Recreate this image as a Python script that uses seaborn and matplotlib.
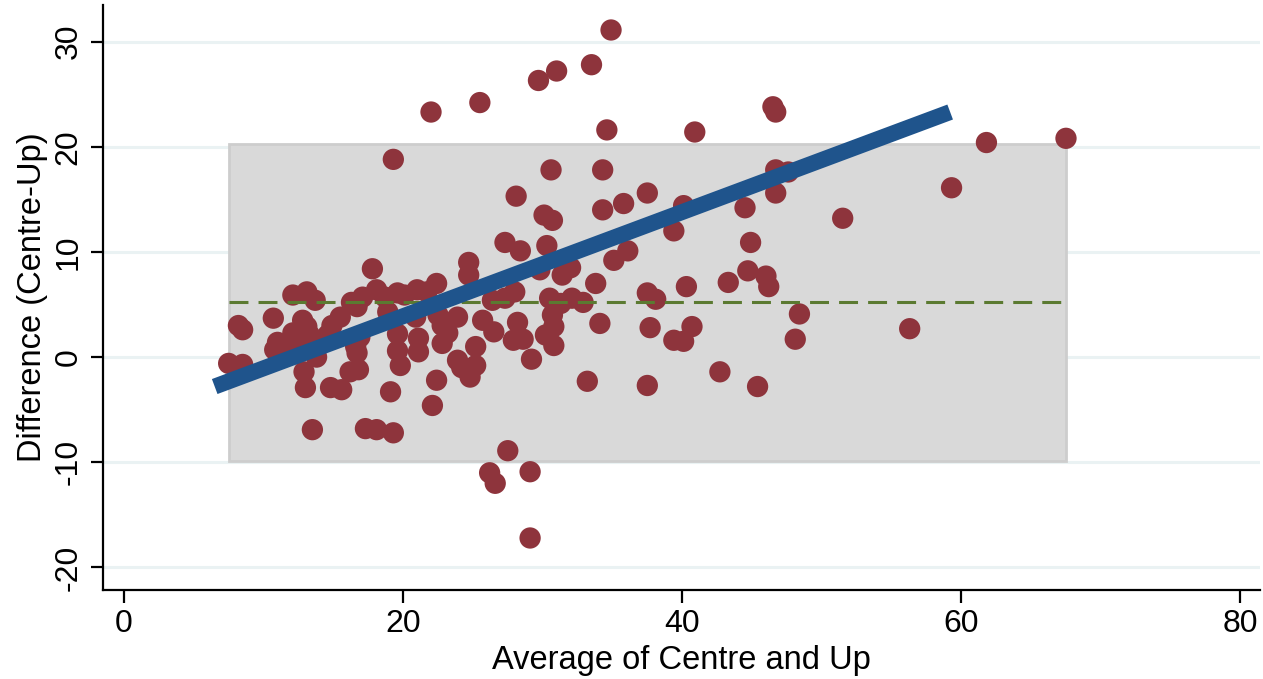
import matplotlib
matplotlib.use("Agg")
import matplotlib.pyplot as plt
import seaborn as sns
import pandas as pd
from matplotlib.patches import Rectangle

# ---------------- data ----------------
avg_centre_up = [
    7.5, 8.5, 8.2, 8.5, 10.7, 11.0, 10.8, 12.1, 13.1, 13.7, 12.8, 13.1, 12.1, 12.6, 13.3,
    11.7, 13.8, 12.9, 13.0, 13.5, 14.8, 15.6, 14.9, 15.5, 14.6, 16.3, 17.1, 16.7, 16.6, 16.7,
    16.2, 16.8, 16.9, 17.8, 18.1, 18.7, 18.9, 19.6, 19.6, 19.8, 19.1, 17.3, 18.1, 19.3, 19.3,
    22.0, 24.7, 24.7, 22.4, 19.6, 20.1, 21.0, 21.7, 20.9, 22.5, 22.8, 23.9, 25.7, 26.5, 26.4,
    27.3, 28.0, 28.2, 27.9, 28.6, 29.2, 29.8, 31.4, 32.0, 30.5, 31.3, 32.1, 32.9, 30.7, 30.8,
    30.2, 30.8, 21.1, 21.1, 22.8, 23.2, 22.4, 22.1, 23.9, 24.2, 25.2, 24.8, 25.2, 27.5, 26.2,
    26.6, 29.1, 29.1, 25.5, 29.7, 31.0, 33.5, 34.9, 34.6, 30.6, 28.1, 30.1, 30.7, 27.3, 28.4,
    30.3, 34.3, 34.3, 35.8, 37.5, 40.1, 39.4, 36.1, 35.1, 33.8, 37.5, 38.1, 40.3, 43.3, 44.5,
    44.9, 44.7, 46.0, 46.2, 46.7, 46.7, 47.6, 34.1, 37.7, 40.7, 39.4, 40.1, 33.2, 37.5, 42.7,
    45.4, 46.5, 46.7, 40.9, 51.5, 48.4, 48.1, 56.3, 59.3, 61.8, 67.5,
]
diff_centre_up = [
    -0.6, -0.7, 3.0, 2.6, 3.7, 1.4, 0.7, 5.9, 6.2, 5.4, 3.5, 2.9, 2.3, 1.6, 2.1,
    1.1, 0.0, -1.4, -2.9, -6.9, -2.9, -3.1, 3.0, 3.8, 2.1, 5.2, 5.7, 4.8, 1.0, 0.4,
    -1.4, -1.2, 1.9, 8.4, 6.4, 5.7, 4.3, 2.2, 0.6, -0.8, -3.3, -6.8, -6.9, -7.2, 18.8,
    23.3, 9.0, 7.8, 7.0, 6.1, 5.9, 6.4, 6.2, 3.8, 4.0, 3.0, 3.8, 3.5, 2.4, 5.4,
    5.6, 6.2, 3.3, 1.6, 1.7, -0.2, 8.3, 7.8, 8.5, 5.6, 5.1, 5.6, 5.2, 4.0, 2.9,
    2.1, 1.1, 1.8, 0.5, 1.3, 2.3, -2.2, -4.6, -0.3, -1.0, -0.8, -1.9, 1.0, -8.9, -11.0,
    -12.0, -10.9, -17.2, 24.2, 26.3, 27.2, 27.8, 31.1, 21.6, 17.8, 15.3, 13.5, 13.0, 10.9, 10.1,
    10.6, 17.8, 14.0, 14.6, 15.6, 14.4, 12.0, 10.1, 9.2, 7.0, 6.1, 5.5, 6.7, 7.1, 14.2,
    10.9, 8.2, 7.7, 6.7, 15.6, 17.8, 17.6, 3.2, 2.8, 2.9, 1.6, 1.5, -2.3, -2.7, -1.4,
    -2.8, 23.8, 23.3, 21.4, 13.2, 4.1, 1.7, 2.7, 16.1, 20.4, 20.8,
]

mean_diff = 5.2
upper_limit = 20.3
lower_limit = -9.9
range_x = [7.5, 67.5]          # span of the agreement band / mean line
fit_line_x = [6.5, 59.2]       # fitted regression line ends
fit_line_y = [-2.8, 23.3]

x_ticks = [0, 20, 40, 60, 80]
y_ticks = [-20, -10, 0, 10, 20, 30]
x_label = "Average of Centre and Up"
y_label = "Difference (Centre-Up)"

# ---------------- style ----------------
sns.set_theme(style="white")
plt.rcParams["font.family"] = ["Liberation Sans", "DejaVu Sans"]
plt.rcParams["text.color"] = "black"
plt.rcParams["axes.labelcolor"] = "black"

df = pd.DataFrame({"avg": avg_centre_up, "diff": diff_centre_up})

fig = plt.figure(figsize=(12.63, 6.79), dpi=100)
ax = fig.add_axes([0.0816, 0.131, 0.916, 0.862])

ax.set_xlim(-1.5, 81.4)
ax.set_ylim(-22.15, 33.5)

# gridlines (y only)
for yt in y_ticks:
    ax.axhline(yt, color="#EAF2F3", lw=2.2, zorder=0)

# agreement band
ax.add_patch(Rectangle((range_x[0], lower_limit), range_x[1] - range_x[0],
                       upper_limit - lower_limit, facecolor="#D9D9D9",
                       edgecolor="#CDCDCD", lw=2.0, zorder=1))

sns.scatterplot(data=df, x="avg", y="diff", ax=ax, color="#8E343C", s=235,
                edgecolor="none", linewidth=0, zorder=3, legend=False)

ax.plot(range_x, [mean_diff, mean_diff], color="#5B7A31", lw=2.2,
        dashes=(6.2, 3.3), zorder=4)
ax.plot(fit_line_x, fit_line_y, color="#1F548C", lw=11.5, solid_capstyle="butt", zorder=5)

ax.set_xticks(x_ticks)
ax.set_yticks(y_ticks)
ax.set_xticklabels([str(t) for t in x_ticks])
ax.set_yticklabels([str(t) for t in y_ticks], rotation=90, va="center")
ax.tick_params(axis="both", direction="out", length=9, width=1.6, labelsize=23,
               colors="black", labelcolor="black", pad=5, left=True, bottom=True)
ax.set_xlabel(x_label, fontsize=23.5, labelpad=4, color="black")
ax.set_ylabel(y_label, fontsize=23.5, labelpad=4, color="black")

for side in ["top", "right"]:
    ax.spines[side].set_visible(False)
for side in ["left", "bottom"]:
    ax.spines[side].set_color("black")
    ax.spines[side].set_linewidth(1.6)

fig.savefig("out.png", dpi=100)
